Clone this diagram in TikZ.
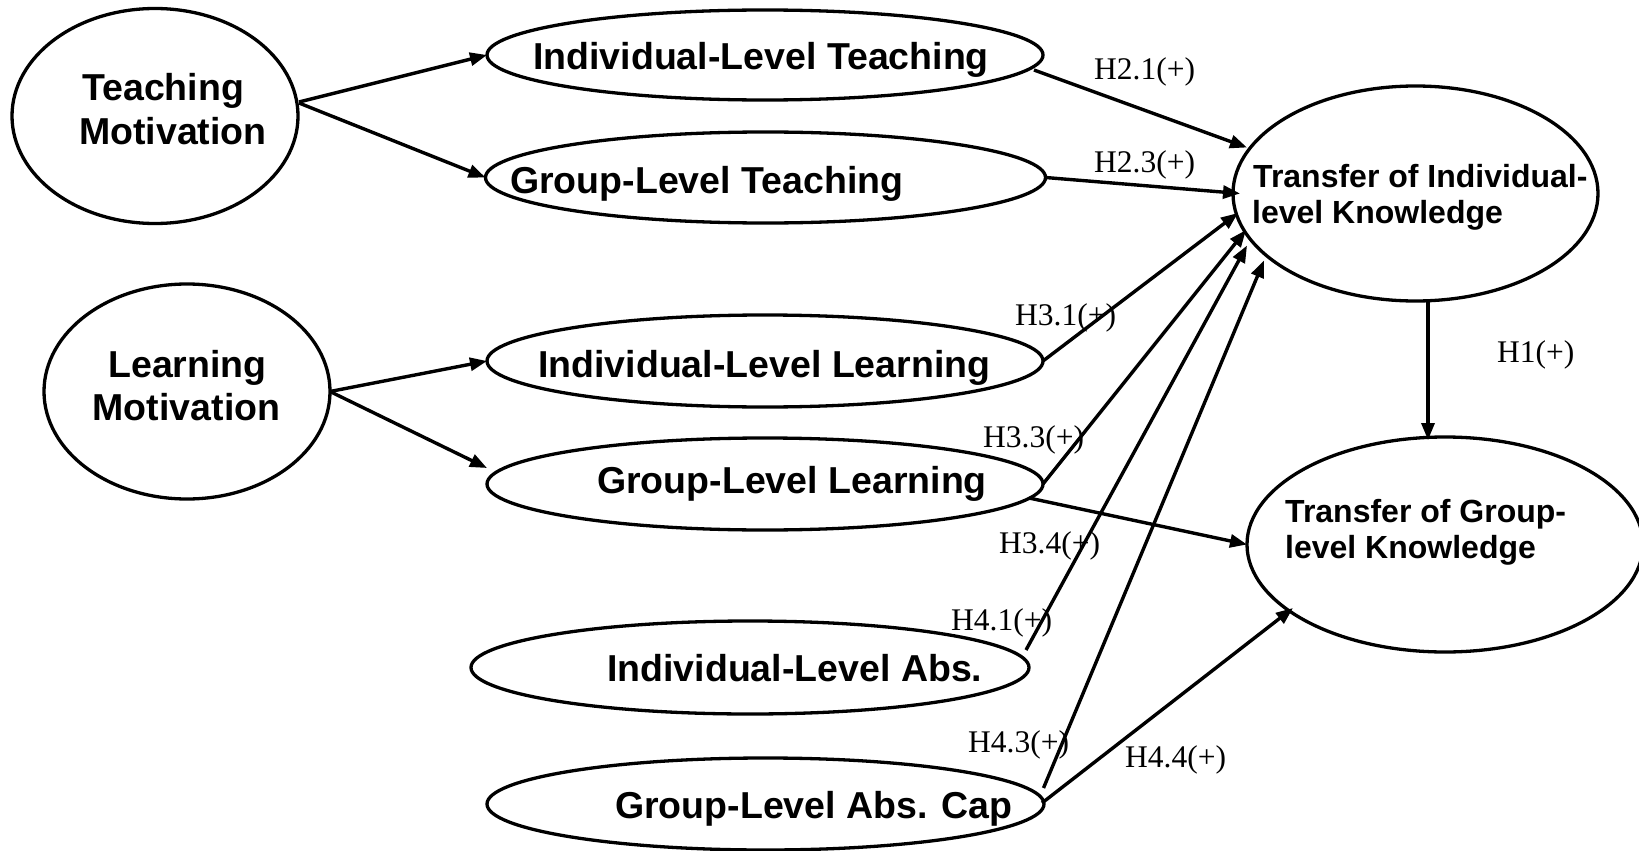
\documentclass[tikz,border=0pt]{standalone}
\usepackage{fontspec}
\setmainfont{Liberation Serif}
\setsansfont{Liberation Sans}
\usetikzlibrary{shapes.geometric,arrows.meta}
\begin{document}
\begin{tikzpicture}[x=1pt,y=-1pt,
  ell/.style={ellipse,draw,line width=3.3pt,inner sep=0pt,outer sep=0pt},
  midell/.style={ell,minimum width=557pt,minimum height=92pt},
  bigell/.style={ell,minimum width=286pt,minimum height=215pt},
  big/.style={font=\sffamily\bfseries\fontsize{37.5}{44}\selectfont,inner sep=0pt,anchor=base west},
  tr/.style={font=\sffamily\bfseries\fontsize{32}{38}\selectfont,inner sep=0pt,anchor=base west},
  lab/.style={font=\fontsize{31.5}{38}\selectfont,inner sep=0pt,anchor=base west},
  arr/.style={line width=3.4pt,-{Triangle[length=17pt,width=13pt]}}]
\useasboundingbox (0,0) rectangle (1639,851);
\fill[white] (0,0) rectangle (1639,851);

% ellipses
\node[bigell] (TM) at (155,116) {};
\node[bigell] (LM) at (187,391.5) {};
\node[midell,minimum width=556pt,minimum height=90pt] (ILT) at (765,55) {};
\node[midell,minimum width=560pt,minimum height=91pt] (GLT) at (765.5,177.5) {};
\node[midell,minimum width=556pt] (ILL) at (765,361) {};
\node[midell,minimum width=556pt] (GLL) at (765,484) {};
\node[midell,minimum width=558pt,minimum height=93pt] (ILA) at (750,667.5) {};
\node[midell] (GLA) at (765.5,804) {};
\node[ell,minimum width=365pt,minimum height=215pt] (TIK) at (1415.5,193.5) {};
\node[ell,minimum width=396pt,minimum height=215pt] (TGK) at (1445,544.5) {};

% texts
\node[big] (tm1) at (82,100) {Teaching};
\node[big] (tm2) at (79,144) {Motivation};
\node[big,anchor=base] (lm1) at (187.5,377) {Learning};
\node[big,anchor=base] (lm2) at (186.5,420) {Motivation};
\node[big] (t1) at (533,70) {Individual-Level Teaching};
\node[big] (t2) at (510,193) {Group-Level Teaching};
\node[big] (t3) at (538,377) {Individual-Level Learning};
\node[big] (t4) at (597,493) {Group-Level Learning};
\node[big] (t5) at (607,681) {Individual-Level Abs.};
\node[big] (t6) at (615,818) {Group-Level Abs. Cap};
\node[tr] (ti1) at (1253,187) {Transfer of Individual-};
\node[tr] (ti2) at (1252,223) {level Knowledge};
\node[tr] (tg1) at (1285,522) {Transfer of Group-};
\node[tr] (tg2) at (1285,558) {level Knowledge};

% connectors
\draw[arr] ([shift={(1,-14)}]TM.east) -- (ILT.west);
\draw[arr] ([shift={(1,-13)}]TM.east) -- (GLT.west);
\draw[arr] (LM.east) -- (ILL.west);
\draw[arr] (LM.east) -- ([shift={(0,-16)}]GLL.west);
\draw[arr] ([shift={(-9,15)}]ILT.east) -- ([shift={(14,-46)}]TIK.west);
\draw[arr] (GLT.east) -- ([shift={(7,0)}]TIK.west);
\draw[arr] (ILL.east) -- ([shift={(5,19.5)}]TIK.west);
\draw[arr] (GLL.east) -- ([shift={(13,36.5)}]TIK.west);
\draw[arr] ([shift={(-3,-17.5)}]ILA.east) -- ([shift={(14,52)}]TIK.west);
\draw[arr] ([shift={(-0.5,-16)}]GLA.east) -- ([shift={(31,67)}]TIK.west);
\draw[arr] ([shift={(-14,14)}]GLL.east) -- (TGK.west);
\draw[arr] ([shift={(-2,-1)}]GLA.east) -- ([shift={(46,63.5)}]TGK.west);
\draw[arr] ([shift={(12.5,0)}]TIK.south) -- ([shift={(-17,3)}]TGK.north);

% labels
\node[lab] (h21) at (1094,80) {H2.1(+)};
\node[lab] (h23) at (1094,172) {H2.3(+)};
\node[lab] (h31) at (1015,325) {H3.1(+)};
\node[lab] (h33) at (983,447) {H3.3(+)};
\node[lab] (h34) at (999,553) {H3.4(+)};
\node[lab] (h41) at (951,630) {H4.1(+)};
\node[lab] (h43) at (968,752) {H4.3(+)};
\node[lab] (h44) at (1125,767) {H4.4(+)};
\node[lab] (h1) at (1497,362) {H1(+)};
\end{tikzpicture}
\end{document}
